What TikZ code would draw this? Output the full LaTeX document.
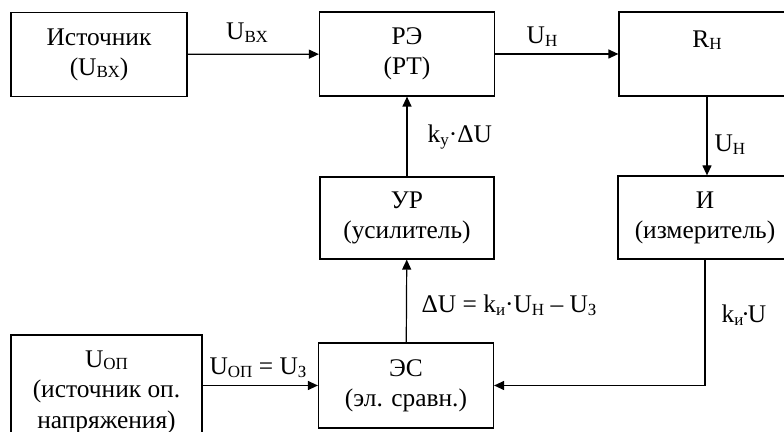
\documentclass[tikz,border=0pt]{standalone}
\usepackage{fontspec}
\setmainfont{Liberation Serif}
\usetikzlibrary{arrows.meta}
\newcommand{\subidx}[1]{\raisebox{-1.3pt}{\fontsize{8.5}{9}\selectfont #1}}

\begin{document}
\begin{tikzpicture}[
  x=0.5pt,y=-0.5pt,
  >={Triangle[length=5pt,width=4.5pt]},
  line width=0.6pt,
  block/.style={draw,align=center,inner sep=0pt,minimum width=#1,minimum height=42pt,font=\fontsize{12.7}{15}\selectfont},
  block/.default=87.5pt,
  lbl/.style={inner sep=0pt,font=\fontsize{12.7}{15}\selectfont},
]
  \clip (0,0) rectangle (784,432);
  \node[block=88pt] (src) at (99,54.5) {Источник\\(U\subidx{ВХ})};
  \node[block] (re) at (407,54) {РЭ\\(РТ)};
  \node[block=88pt] (rn) at (707,54) {R\subidx{Н}\\~};
  \node[block=87pt,minimum height=41.5pt] (izm) at (705,217.5) {И\\(измеритель)};
  \node[block=87pt,minimum height=41pt] (ur) at (407,218) {УР\\(усилитель)};
  \node[block,minimum height=42.5pt] (ec) at (406,385.5) {ЭС\\(эл. сравн.)};
  \node[block=95.5pt,minimum height=57pt,font=\fontsize{12.7}{15.3}\selectfont] (op) at (106.5,392) {U\subidx{ОП}\\(источник оп.\\напряжения)};

  \foreach \a/\b in {src/re,re/rn,ur/re,ec/ur}
    \draw[->] (\a) -- (\b);
  \draw[->] (ec.west -| op.east) -- (ec.west);
  \draw[->] (rn.south) -- (rn.south |- izm.north);
  \draw[->] (izm.south) |- (ec.east);

  \node[lbl,anchor=base] (l1) at (247,40) {U\subidx{ВХ}};
  \node[lbl,anchor=base] (l2) at (542,44) {U\subidx{Н}};
  \node[lbl,anchor=base west] (l3) at (427,143) {k\subidx{у}·ΔU};
  \node[lbl,anchor=base west] (l4) at (714,152) {U\subidx{Н}};
  \node[lbl,anchor=base west] (l5) at (421,313) {ΔU = k\subidx{и}·U\subidx{Н} – U\subidx{З}};
  \node[lbl,anchor=base west] (l6) at (721,323) {k\subidx{и}\kern-1pt·\kern-1pt U};
  \node[lbl,anchor=base west] (l7) at (209,375) {U\subidx{ОП} = U\subidx{З}};
\end{tikzpicture}
\end{document}
